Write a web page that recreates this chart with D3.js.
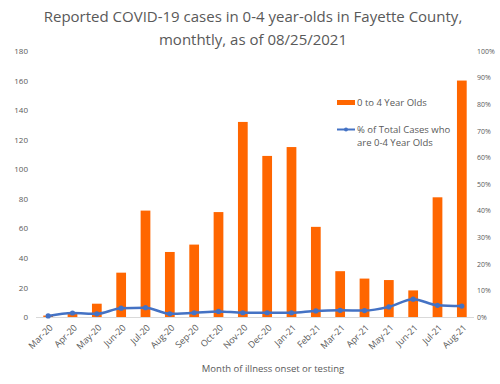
<!DOCTYPE html>
<html><head><meta charset="utf-8">
<script src="https://cdn.jsdelivr.net/npm/d3@7"></script>
<style>body{margin:0;background:#fff}svg{display:block;font-family:"Open Sans","Liberation Sans",sans-serif}</style>
</head><body><svg id="c" width="500" height="384"></svg>
<script>
const months = ["Mar-20","Apr-20","May-20","Jun-20","Jul-20","Aug-20","Sep-20","Oct-20","Nov-20","Dec-20","Jan-21","Feb-21","Mar-21","Apr-21","May-21","Jun-21","Jul-21","Aug-21"];
const cases = [1,2,9,30,72,44,49,71,132,109,115,61,31,26,25,18,81,160];
const pctTotal = [0.4,1.5,1.2,3.3,3.5,1.2,1.6,2.1,1.6,1.6,1.6,2.3,2.5,2.4,3.8,6.7,4.4,4.1];
const leftTicks = [0,20,40,60,80,100,120,140,160,180];
const rightTicks = [0,10,20,30,40,50,60,70,80,90,100];

const svg = d3.select("#c");
const x = d3.scaleBand().domain(months).range([36,474]).paddingInner(0.6).paddingOuter(0.3);
const yL = d3.scaleLinear().domain([0,180]).range([317,51]);
const yR = d3.scaleLinear().domain([0,100]).range([317,51]);
const grey = "#595959";

// title
const t = svg.append("text").attr("x",253).attr("text-anchor","middle").attr("fill",grey).attr("font-size",15);
t.append("tspan").attr("x",253).attr("y",22).text("Reported COVID-19 cases in 0-4 year-olds in Fayette County,");
t.append("tspan").attr("x",253).attr("y",45).text("monthtly, as of 08/25/2021");

// left axis
const la = svg.append("g").attr("transform","translate(28,0)")
  .call(d3.axisLeft(yL).tickValues(leftTicks).tickSize(0).tickPadding(0));
la.select(".domain").remove();
la.selectAll("text").attr("fill",grey).attr("font-size",8).attr("font-family","'Open Sans','Liberation Sans',sans-serif");

// right axis
const ra = svg.append("g").attr("transform","translate(477,0)")
  .call(d3.axisRight(yR).tickValues(rightTicks).tickSize(0).tickPadding(0).tickFormat(d=>d+"%"));
ra.select(".domain").remove();
ra.selectAll("text").attr("fill",grey).attr("font-size",7).attr("font-family","'Open Sans','Liberation Sans',sans-serif");

// bars
svg.append("g").selectAll("rect").data(months).join("rect")
  .attr("x",d=>x(d)).attr("width",x.bandwidth())
  .attr("y",(d,i)=>yL(cases[i])).attr("height",(d,i)=>yL(0)-yL(cases[i]))
  .attr("fill","#FF6600");

// baseline
svg.append("line").attr("x1",36).attr("x2",474).attr("y1",317.5).attr("y2",317.5).attr("stroke","#d9d9d9").attr("stroke-width",1);

// x labels
const xa = svg.append("g").attr("transform","translate(0,318)")
  .call(d3.axisBottom(x).tickSize(0).tickPadding(0));
xa.select(".domain").remove();
xa.selectAll("text").attr("fill",grey).attr("font-size",9).attr("font-family","'Open Sans','Liberation Sans',sans-serif")
  .attr("text-anchor","end").attr("dy","0.35em").attr("transform","translate(3,8) rotate(-45)");

// line
const cx = d => x(d)+x.bandwidth()/2;
const line = d3.line().x((d,i)=>cx(months[i])).y(d=>yR(d)).curve(d3.curveMonotoneX);
svg.append("path").datum(pctTotal).attr("d",line).attr("fill","none").attr("stroke","#4472C4").attr("stroke-width",2.5);
svg.append("g").selectAll("circle").data(pctTotal).join("circle")
  .attr("cx",(d,i)=>cx(months[i])).attr("cy",d=>yR(d)).attr("r",2.6).attr("fill","#4472C4");

// x axis title
svg.append("text").attr("x",273).attr("y",372).attr("text-anchor","middle").attr("fill",grey).attr("font-size",9.5).text("Month of illness onset or testing");

// legend
svg.append("rect").attr("x",337).attr("y",100).attr("width",18).attr("height",5).attr("fill","#FF6600");
svg.append("text").attr("x",357).attr("y",105.5).attr("fill",grey).attr("font-size",9.5).text("0 to 4 Year Olds");
svg.append("line").attr("x1",337).attr("x2",355).attr("y1",129.5).attr("y2",129.5).attr("stroke","#4472C4").attr("stroke-width",2);
svg.append("circle").attr("cx",346).attr("cy",129.5).attr("r",2).attr("fill","#4472C4");
const lt = svg.append("text").attr("fill",grey).attr("font-size",9.5);
lt.append("tspan").attr("x",357).attr("y",133).text("% of Total Cases who");
lt.append("tspan").attr("x",357).attr("y",146).text("are 0-4 Year Olds");
</script></body></html>
